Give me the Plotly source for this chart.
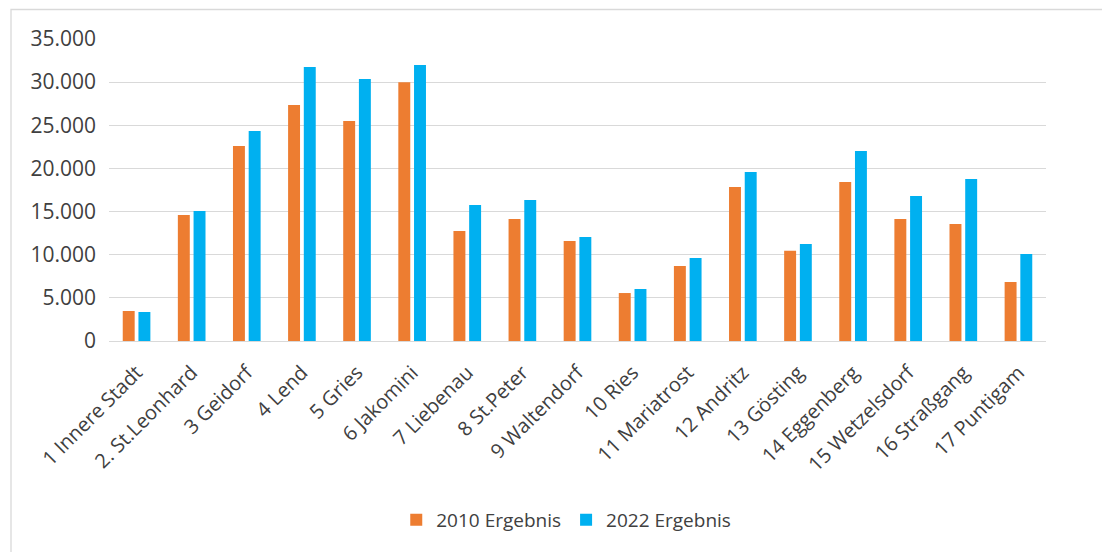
import plotly.graph_objects as go

categories = ["1 Innere Stadt", "2. St.Leonhard", "3 Geidorf", "4 Lend", "5 Gries",
              "6 Jakomini", "7 Liebenau", "8 St.Peter", "9 Waltendorf", "10 Ries",
              "11 Mariatrost", "12 Andritz", "13 Gösting", "14 Eggenberg",
              "15 Wetzelsdorf", "16 Straßgang", "17 Puntigam"]
values_2010 = [3480, 14600, 22600, 27350, 25500, 30000, 12750, 14150, 11600, 5560,
               8700, 17850, 10450, 18420, 14150, 13560, 6840]
values_2022 = [3360, 15060, 24330, 31750, 30360, 31980, 15760, 16340, 12050, 6030,
               9620, 19580, 11240, 22020, 16800, 18770, 10080]
series_names = ["2010 Ergebnis", "2022 Ergebnis"]
tick_vals = [0, 5000, 10000, 15000, 20000, 25000, 30000, 35000]

FONT = "Open Sans"
TXT = "#404040"

W, H = 1102, 544
L, T = 101, 31
PW, PH = 937, 302

fig = go.Figure()
fig.add_trace(go.Bar(x=categories, y=values_2010, name=series_names[0],
                     marker=dict(color="#ED7D31", line=dict(width=0))))
fig.add_trace(go.Bar(x=categories, y=values_2022, name=series_names[1],
                     marker=dict(color="#00B0F0", line=dict(width=0))))

fig.update_layout(
    width=W, height=H,
    margin=dict(l=L, r=W - L - PW, t=T, b=H - T - PH, autoexpand=False),
    paper_bgcolor="white", plot_bgcolor="white",
    separators=",.",
    barmode="group", bargap=0.43, bargroupgap=0.24,
    font=dict(family=FONT, color=TXT),
    showlegend=True,
    legend=dict(orientation="h", x=0.488, xanchor="center",
                y=-(512 - 333) / PH, yanchor="middle",
                font=dict(size=19, family=FONT, color=TXT),
                itemwidth=30, traceorder="normal"),
    xaxis=dict(tickangle=-45, tickfont=dict(size=20, family=FONT, color=TXT),
               showgrid=False, showline=False, ticks="", automargin=False,
               ticklabelstandoff=15),
    yaxis=dict(range=[0, 35000], tickvals=tick_vals, tickformat=",d",
               tickfont=dict(size=21, family=FONT, color=TXT),
               showgrid=True, gridcolor="#D9D9D9", gridwidth=1.3,
               zeroline=True, zerolinecolor="#D9D9D9", zerolinewidth=1.3,
               showline=False, ticks="", ticklen=0, automargin=False,
               ticklabelstandoff=12),
    shapes=[dict(type="rect", xref="paper", yref="paper",
                 x0=(3 - L) / PW, x1=(1200 - L) / PW,
                 y0=-(700 - 333) / PH, y1=(333 - 1.5) / PH,
                 line=dict(color="#D9D9D9", width=1.3), fillcolor="rgba(0,0,0,0)",
                 layer="below")],
)

fig.write_html("out.html")
